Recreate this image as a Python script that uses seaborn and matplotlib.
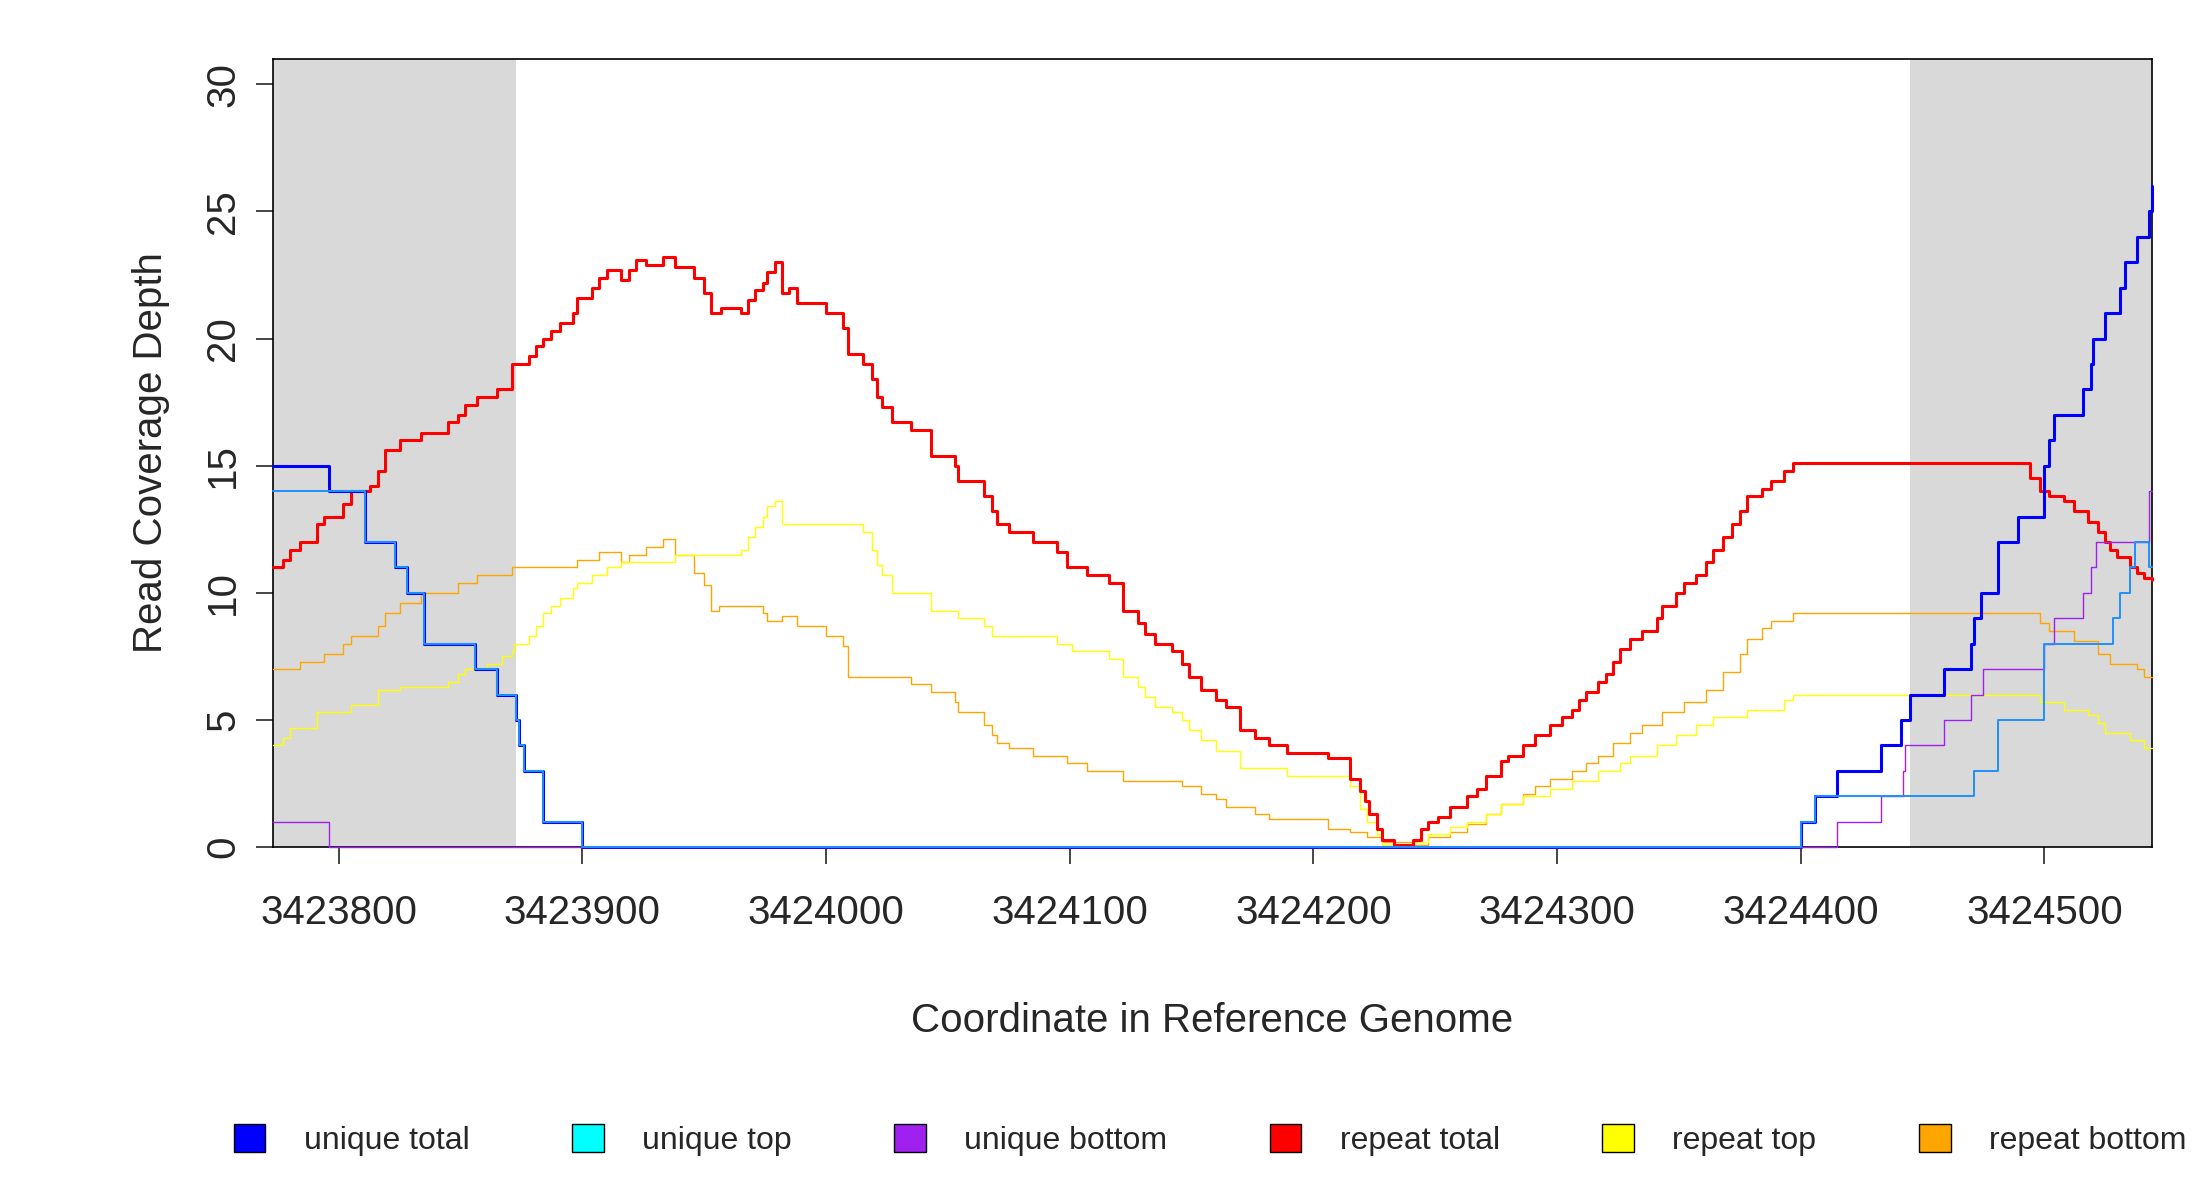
import numpy as np
import pandas as pd
import seaborn as sns
import matplotlib.pyplot as plt
from matplotlib.patches import Patch

START = 3423773
END = START + 771

# step positions are offsets (bp) from START, values = depth after that position
ut_pos = [0, 23, 38, 50, 55, 62, 83, 92, 100, 101, 103, 111, 127, 627, 633, 642, 660, 668, 672, 686,
          697, 698, 701, 708, 716, 727, 729, 731, 743, 746, 747, 752, 758, 760, 765, 770, 771]
ut_val = [15, 14, 12, 11, 10, 8, 7, 6, 5, 4, 3, 1, 0, 1, 2, 3, 4, 5, 6, 7,
          8, 9, 10, 12, 13, 15, 16, 17, 18, 19, 20, 21, 22, 23, 24, 25, 26]

utop_pos = [0, 38, 50, 55, 62, 83, 92, 100, 101, 103, 111, 127, 627, 633, 698, 708, 727, 755, 758, 762, 764, 770, 771]
utop_val = [14, 12, 11, 10, 8, 7, 6, 5, 4, 3, 1, 0, 1, 2, 3, 5, 8, 9, 10, 11, 12, 11, 11]

ub_pos = [0, 23, 642, 660, 669, 670, 686, 697, 702, 727, 731, 743, 746, 748, 770, 771]
ub_val = [1, 0, 1, 2, 3, 4, 5, 6, 7, 8, 9, 10, 11, 12, 14, 14]

rt_pos = [0, 4, 7, 11, 18, 21, 29, 32, 40, 43, 46, 52, 61, 72, 76, 79, 84, 92, 98, 105, 108, 111, 114, 118,
          123, 125, 131, 134, 137, 143, 146, 149, 153, 160, 165, 173, 177, 180, 184, 192, 195, 198, 201, 203,
          206, 209, 212, 215, 227, 234, 236, 242, 246, 248, 250, 254, 262, 270, 280, 281, 292, 295, 297, 302,
          312, 322, 326, 334, 343, 349, 355, 358, 362, 369, 373, 376, 381, 387, 391, 397, 403, 409, 416, 433,
          442, 446, 448, 450, 453, 455, 460, 468, 471, 474, 478, 483, 490, 494, 498, 504, 507, 513, 518, 524,
          529, 533, 536, 539, 544, 547, 550, 553, 557, 562, 568, 570, 576, 579, 584, 588, 591, 595, 599, 602,
          605, 611, 615, 620, 624, 717, 721, 725, 729, 735, 739, 745, 749, 752, 754, 757, 762, 765, 768, 771]
rt_val = [11, 11.3, 11.7, 12, 12.7, 13, 13.5, 14, 14.2, 14.8, 15.6, 16, 16.3, 16.7, 17, 17.4, 17.7, 18, 19,
          19.3, 19.7, 20, 20.3, 20.6, 21, 21.6, 22, 22.4, 22.7, 22.3, 22.7, 23.1, 22.9, 23.2, 22.8, 22.4, 21.8,
          21, 21.2, 21, 21.5, 21.9, 22.2, 22.6, 23, 21.8, 22, 21.4, 21, 20.4, 19.4, 19, 18.4, 17.7, 17.3, 16.7,
          16.4, 15.4, 15, 14.4, 13.8, 13.2, 12.7, 12.4, 12, 11.6, 11, 10.7, 10.4, 9.3, 8.8, 8.4, 8, 7.7, 7.2,
          6.7, 6.2, 5.8, 5.5, 4.6, 4.3, 4, 3.7, 3.5, 2.7, 2.2, 1.8, 1.3, 0.7, 0.3, 0.1, 0.3, 0.7, 1, 1.2, 1.6,
          2, 2.3, 2.8, 3.4, 3.6, 4, 4.4, 4.8, 5.1, 5.4, 5.8, 6.1, 6.5, 6.8, 7.3, 7.8, 8.2, 8.5, 9, 9.5, 10,
          10.4, 10.7, 11.2, 11.7, 12.2, 12.7, 13.2, 13.8, 14.1, 14.4, 14.8, 15.1, 15.1, 14.5, 14, 13.8, 13.6,
          13.2, 12.8, 12.4, 12, 11.7, 11.4, 11, 10.8, 10.6, 10.5]

rtop_pos = [0, 4, 7, 18, 32, 43, 52, 72, 76, 79, 88, 94, 98, 99, 105, 108, 111, 114, 118, 123, 125, 131, 137,
            143, 165, 192, 195, 198, 201, 203, 206, 209, 242, 246, 248, 250, 254, 270, 281, 292, 295, 322, 328,
            343, 349, 355, 358, 362, 369, 373, 376, 381, 387, 397, 416, 442, 446, 449, 453, 455, 468, 474, 483,
            490, 498, 504, 513, 524, 533, 544, 553, 557, 568, 576, 584, 591, 605, 620, 624, 717, 725, 735, 745,
            749, 752, 762, 768, 771]
rtop_val = [4, 4.3, 4.7, 5.3, 5.6, 6.2, 6.3, 6.5, 6.8, 7, 7.2, 7.5, 7.7, 8, 8.3, 8.7, 9.2, 9.5, 9.8, 10.2,
            10.4, 10.7, 11, 11.2, 11.5, 11.7, 12.2, 12.6, 13, 13.4, 13.6, 12.7, 12.4, 11.7, 11.1, 10.7, 10,
            9.3, 9, 8.7, 8.3, 8, 7.7, 7.4, 6.7, 6.3, 5.9, 5.5, 5.3, 5, 4.6, 4.2, 3.8, 3.1, 2.8, 2.4, 1.5, 1,
            0.5, 0.1, 0.2, 0.5, 0.8, 1, 1.3, 1.7, 2, 2.3, 2.6, 3, 3.3, 3.6, 4, 4.4, 4.8, 5.1, 5.4, 5.8, 6, 6,
            5.7, 5.4, 5.2, 4.9, 4.5, 4.2, 3.9, 3.9]

rb_pos = [0, 11, 21, 29, 32, 43, 46, 52, 61, 76, 84, 98, 125, 134, 143, 146, 153, 160, 165, 173, 177, 180,
          183, 201, 203, 209, 215, 227, 234, 236, 262, 270, 280, 281, 292, 295, 297, 302, 312, 326, 334, 349,
          373, 381, 387, 391, 403, 409, 433, 442, 449, 455, 468, 474, 483, 490, 498, 504, 513, 518, 524, 533,
          539, 544, 550, 557, 562, 570, 579, 588, 595, 602, 605, 611, 615, 624, 721, 725, 729, 739, 749, 754,
          765, 768, 771]
rb_val = [7, 7.3, 7.6, 8, 8.3, 8.7, 9.2, 9.6, 10, 10.4, 10.7, 11, 11.3, 11.6, 11.2, 11.5, 11.8, 12.1, 11.5,
          10.8, 10.3, 9.3, 9.5, 9.2, 8.9, 9.1, 8.7, 8.3, 7.9, 6.7, 6.4, 6.1, 5.7, 5.3, 4.8, 4.4, 4.1, 3.9,
          3.6, 3.3, 3, 2.6, 2.4, 2.1, 1.9, 1.6, 1.3, 1.1, 0.7, 0.6, 0.4, 0.2, 0.1, 0.4, 0.6, 0.9, 1.3, 1.7,
          2.1, 2.4, 2.7, 3, 3.3, 3.6, 4.1, 4.5, 4.8, 5.3, 5.7, 6.2, 6.9, 7.6, 8.2, 8.6, 8.9, 9.2, 9.2, 8.8,
          8.5, 8.1, 7.6, 7.2, 7, 6.7, 6.7]

shade = [(START, START + 100), (START + 672, END)]

series = [
    ('repeat bottom', rb_pos, rb_val, 'orange', 1.0),
    ('repeat top', rtop_pos, rtop_val, 'yellow', 1.0),
    ('repeat total', rt_pos, rt_val, 'red', 2.2),
    ('unique total', ut_pos, ut_val, 'blue', 2.2),
    ('unique bottom', ub_pos, ub_val, '#a020f0', 1.0),
    ('unique top', utop_pos, utop_val, '#1e90ff', 1.4),
]
legend_order = ['unique total', 'unique top', 'unique bottom', 'repeat total', 'repeat top', 'repeat bottom']
legend_cols = {'unique total': 'blue', 'unique top': 'cyan', 'unique bottom': '#a020f0',
               'repeat total': 'red', 'repeat top': 'yellow', 'repeat bottom': 'orange'}

sns.set_style('white')
plt.rcParams['font.family'] = ['Liberation Sans', 'DejaVu Sans']

fig = plt.figure(figsize=(22, 12), dpi=100)
ax = fig.add_axes([0.124, 0.294, 0.854, 0.657])

for a, b in shade:
    ax.axvspan(a, b, color='#d9d9d9', lw=0, zorder=0)

for name, pos, val, col, lw in series:
    df = pd.DataFrame({'x': START + np.array(pos), 'y': val})
    sns.lineplot(data=df, x='x', y='y', ax=ax, color=col, lw=lw, drawstyle='steps-post',
                 estimator=None, sort=False, clip_on=False, zorder=3)
ax.set_xlim(START, END)
ax.set_ylim(0, 31)
ax.set_xticks(np.arange(3423800, 3424501, 100))
ax.set_xticklabels([str(v) for v in range(3423800, 3424501, 100)])
ax.set_yticks(range(0, 31, 5))
ax.tick_params(axis='both', labelsize=29, length=12, width=1.2, direction='out', bottom=True, left=True, pad=10)
plt.setp(ax.get_yticklabels(), rotation=90, va='center')
ax.tick_params(axis='x', pad=22)
for s in ax.spines.values():
    s.set_linewidth(1.2)
    s.set_color('black')
ax.set_xlabel('Coordinate in Reference Genome', fontsize=29, labelpad=50)
ax.set_ylabel('Read Coverage Depth', fontsize=29, labelpad=25)

handles = [Patch(facecolor=legend_cols[n], edgecolor='black', label=n) for n in legend_order]
fig.legend(handles=handles, loc='center', bbox_to_anchor=(0.55, 0.05), ncol=6, frameon=False,
           fontsize=23, handlelength=1.0, handleheight=1.0, columnspacing=3.2, handletextpad=1.2)

fig.savefig('out.png', dpi=100)
